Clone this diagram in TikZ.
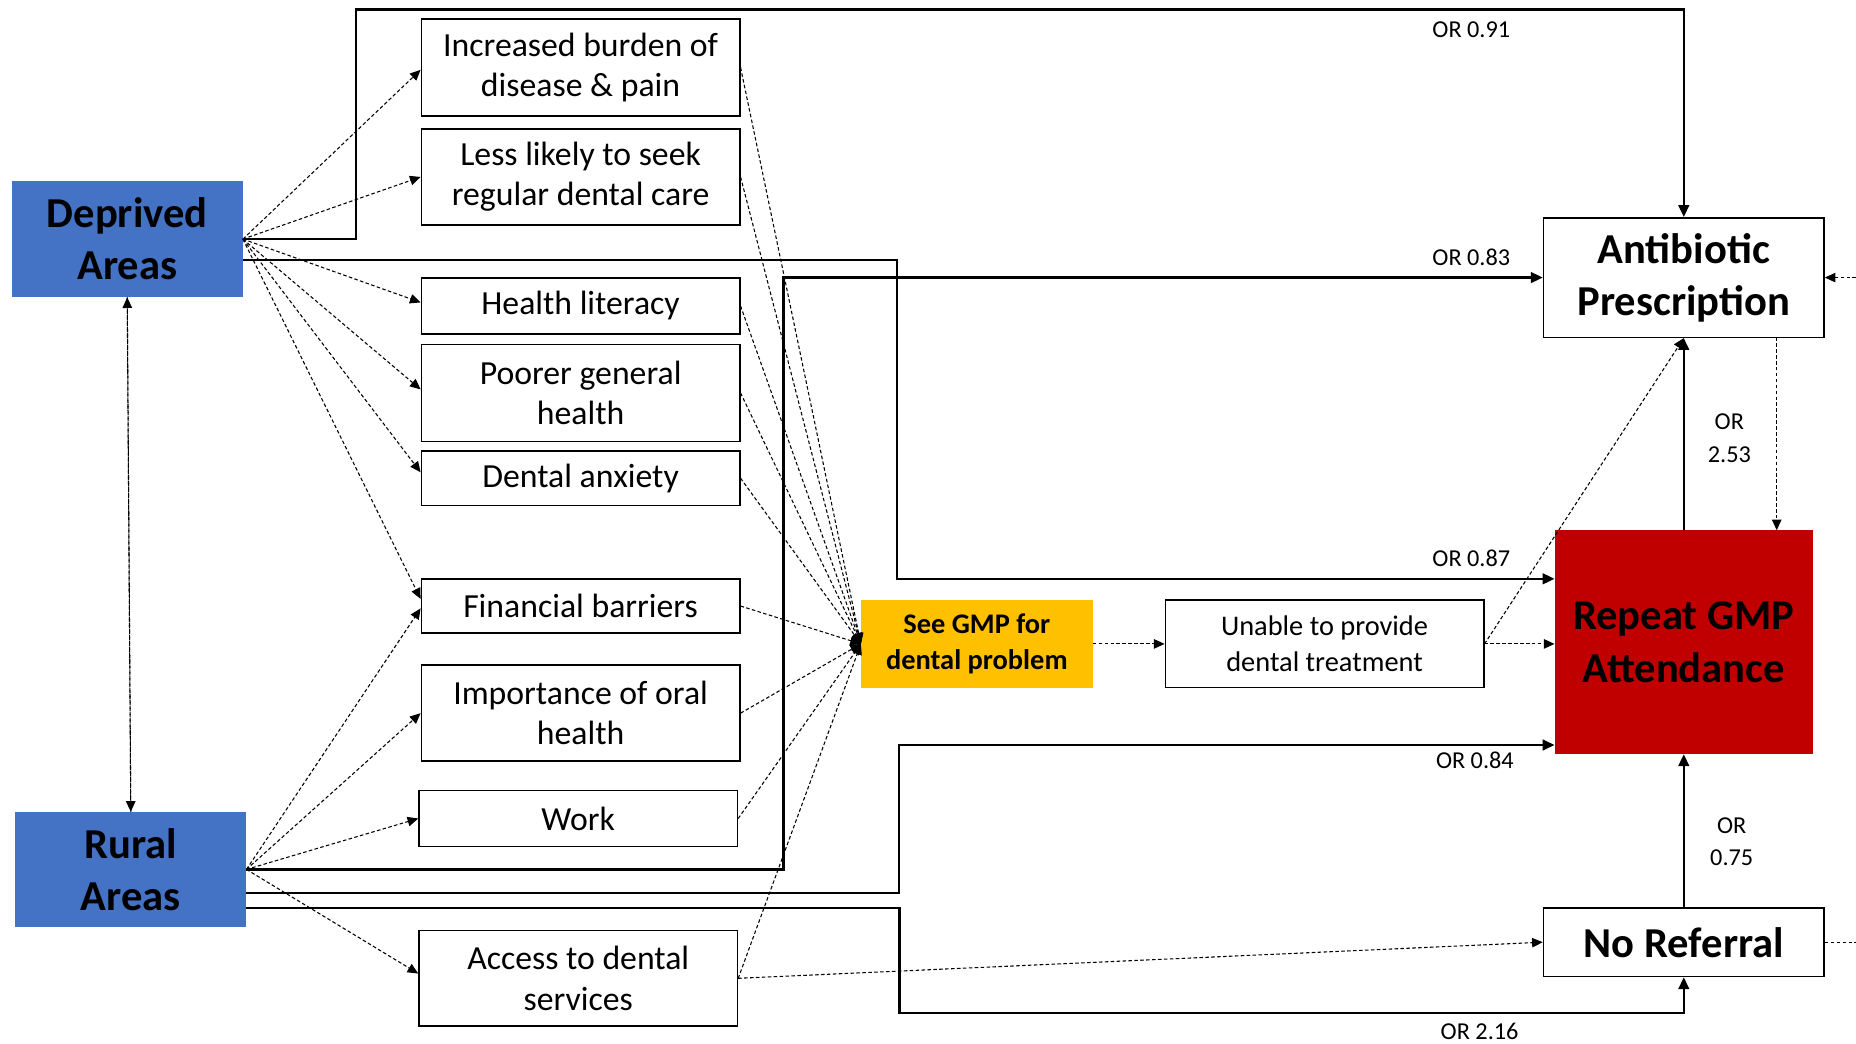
\documentclass[tikz,border=0pt]{standalone}
\usepackage{fontspec}
\setmainfont{Carlito}
\usetikzlibrary{arrows.meta}
\definecolor{dblue}{HTML}{4472C4}
\definecolor{gold}{HTML}{FFC000}
\definecolor{dred}{HTML}{C00000}
\begin{document}
\begin{tikzpicture}[x=1pt,y=-1pt,
  box/.style={draw=black, line width=1.3pt, fill=white, inner sep=0pt, align=center, font=\fontsize{28.5}{34}\selectfont},
  areabox/.style={fill=dblue, inner sep=0pt, align=center, minimum width=195pt, font=\bfseries\fontsize{36}{44}\selectfont},
  outbox/.style={draw=black, line width=1.3pt, fill=white, inner sep=0pt, align=center, font=\bfseries\fontsize{36}{44}\selectfont},
  solidarr/.style={line width=1.9pt, -{Triangle[length=10pt,width=9pt]}},
  dasharr/.style={line width=0.9pt, dash pattern=on 3pt off 2pt, -{Triangle[length=9pt,width=8pt]}},
  dashln/.style={line width=0.9pt, dash pattern=on 3pt off 2pt},
  lab/.style={inner sep=0pt, align=center, font=\fontsize{20.5}{27.5}\selectfont}
]
\useasboundingbox (0,0) rectangle (1568,882);

% factor boxes
\node[box, minimum width=269pt, minimum height=82pt] (f1) at (490.5,57) {Increased burden of\\disease \& pain};
\node[box, minimum width=269pt, minimum height=81pt] (f2) at (490.5,149.5) {Less likely to seek\\regular dental care};
\node[box, minimum width=269pt, minimum height=47pt] (f3) at (490.5,258.5) {Health literacy};
\node[box, minimum width=269pt, minimum height=82pt] (f4) at (490.5,332) {Poorer general\\health};
\node[box, minimum width=269pt, minimum height=46pt] (f5) at (490.5,404) {Dental anxiety};
\node[box, minimum width=269pt, minimum height=46pt] (f6) at (490.5,512) {Financial barriers};
\node[box, minimum width=269pt, minimum height=81pt] (f7) at (490.5,602.5) {Importance of oral\\health};
\node[box, minimum width=269pt, minimum height=47pt] (f8) at (488.5,691.5) {Work};
\node[box, minimum width=269pt, minimum height=81pt] (f9) at (488.5,826.5) {Access to dental\\services};

% area boxes
\node[areabox, minimum height=98pt] (dep) at (107.5,202) {Deprived\\Areas};
\node[areabox, minimum height=97pt] (rur) at (110.5,734.5) {Rural\\Areas};

% middle
\node[fill=gold, inner sep=0pt, align=center, minimum width=195.5pt, minimum height=74pt, font=\bfseries\fontsize{24}{30}\selectfont] (see) at (825.25,544) {See GMP for\\dental problem};
\node[draw=black, line width=1.3pt, fill=white, inner sep=0pt, align=center, minimum width=269pt, minimum height=74pt, font=\fontsize{24}{30}\selectfont] (una) at (1119,544) {Unable to provide\\dental treatment};

% outcomes
\node[outbox, minimum width=237pt, minimum height=101pt] (anti) at (1422.5,234.5) {Antibiotic\\Prescription};
\node[fill=dred, inner sep=0pt, align=center, minimum width=218pt, minimum height=189pt, font=\bfseries\fontsize{36}{44}\selectfont] (rep) at (1422.5,542.5) {Repeat GMP\\Attendance};
\node[outbox, minimum width=237pt, minimum height=58pt] (nor) at (1422.5,796) {No Referral};

% helper coordinates
\coordinate (dep2) at (205,219.6);
\coordinate (rur2) at (208,754.6);
\coordinate (rur3) at (208,767);
\coordinate (t1) at (301,8);
\coordinate (t2) at (757.5,489);
\coordinate (t3) at (662,234.5);
\coordinate (t4) at (759.5,629.4);
\coordinate (t5) at (760,856);
\coordinate (edgeA) at (1568,234.5);
\coordinate (edgeN) at (1568,796);
\coordinate (dA) at (1501,285);
\coordinate (dR) at (1501,448);

% solid connectors
\draw[solidarr] (dep.east) -| (t1) -| (anti.north);
\draw[solidarr] (dep2) -| (t2) -- (rep.west |- t2);
\draw[solidarr] (rur.east) -| (t3) -- (anti.west);
\draw[solidarr] (rur2) -| (t4) -- (rep.west |- t4);
\draw[solidarr] (rur3) -| (t5) -| (nor.south);
\draw[solidarr] (rep.north) -- (anti.south);
\draw[solidarr] (nor.north) -- (rep.south);

% labels
\node[lab] (l1) at (1243,25) {OR 0.91};
\node[lab] (l2) at (1243,217) {OR 0.83};
\node[lab] (l3) at (1243,472) {OR 0.87};
\node[lab] (l4) at (1246,642) {OR 0.84};
\node[lab] (l5) at (1250,871) {OR 2.16};
\node[lab] (l6) at (1461,370) {OR\\2.53};
\node[lab] (l7) at (1463,711) {OR\\0.75};

% dashed from areas to factors
\draw[dasharr] (dep.south) -- (rur.north);
\draw[dasharr] (rur.north) -- (dep.south);
\draw[dasharr] (dep.east) -- ([yshift=-2pt]f1.west);
\draw[dasharr] (dep.east) -- (f2.west);
\draw[dasharr] (dep.east) -- ([yshift=3pt]f3.west);
\draw[dasharr] (dep.east) -- ([yshift=3pt]f4.west);
\draw[dasharr] (dep.east) -- ([yshift=5pt]f5.west);
\draw[dasharr] (dep.east) -- ([yshift=6pt]f6.west);
\draw[dasharr] (rur.east) -- ([yshift=-2pt]f6.west);
\draw[dasharr] (rur.east) -- (f7.west);
\draw[dasharr] (rur.east) -- (f8.west);
\draw[dasharr] (rur.east) -- ([yshift=4pt]f9.west);

% dashed fan-in to see GMP
\foreach \f in {f1,f2,f3,f4,f5,f6,f7,f8,f9}
  \draw[dasharr] (\f.east) -- (see.west);

% dashed others
\draw[dasharr] (see.east) -- (una.west);
\draw[dasharr] (una.east) -- (rep.west |- una.east);
\draw[dasharr] (una.east) -- (anti.south);
\draw[dasharr] (dA) -- (dR);
\draw[dasharr] (f9.east) -- (nor.west);
\draw[dasharr] (edgeA) -- (anti.east);
\draw[dashln] (nor.east) -- (edgeN);
\end{tikzpicture}
\end{document}
